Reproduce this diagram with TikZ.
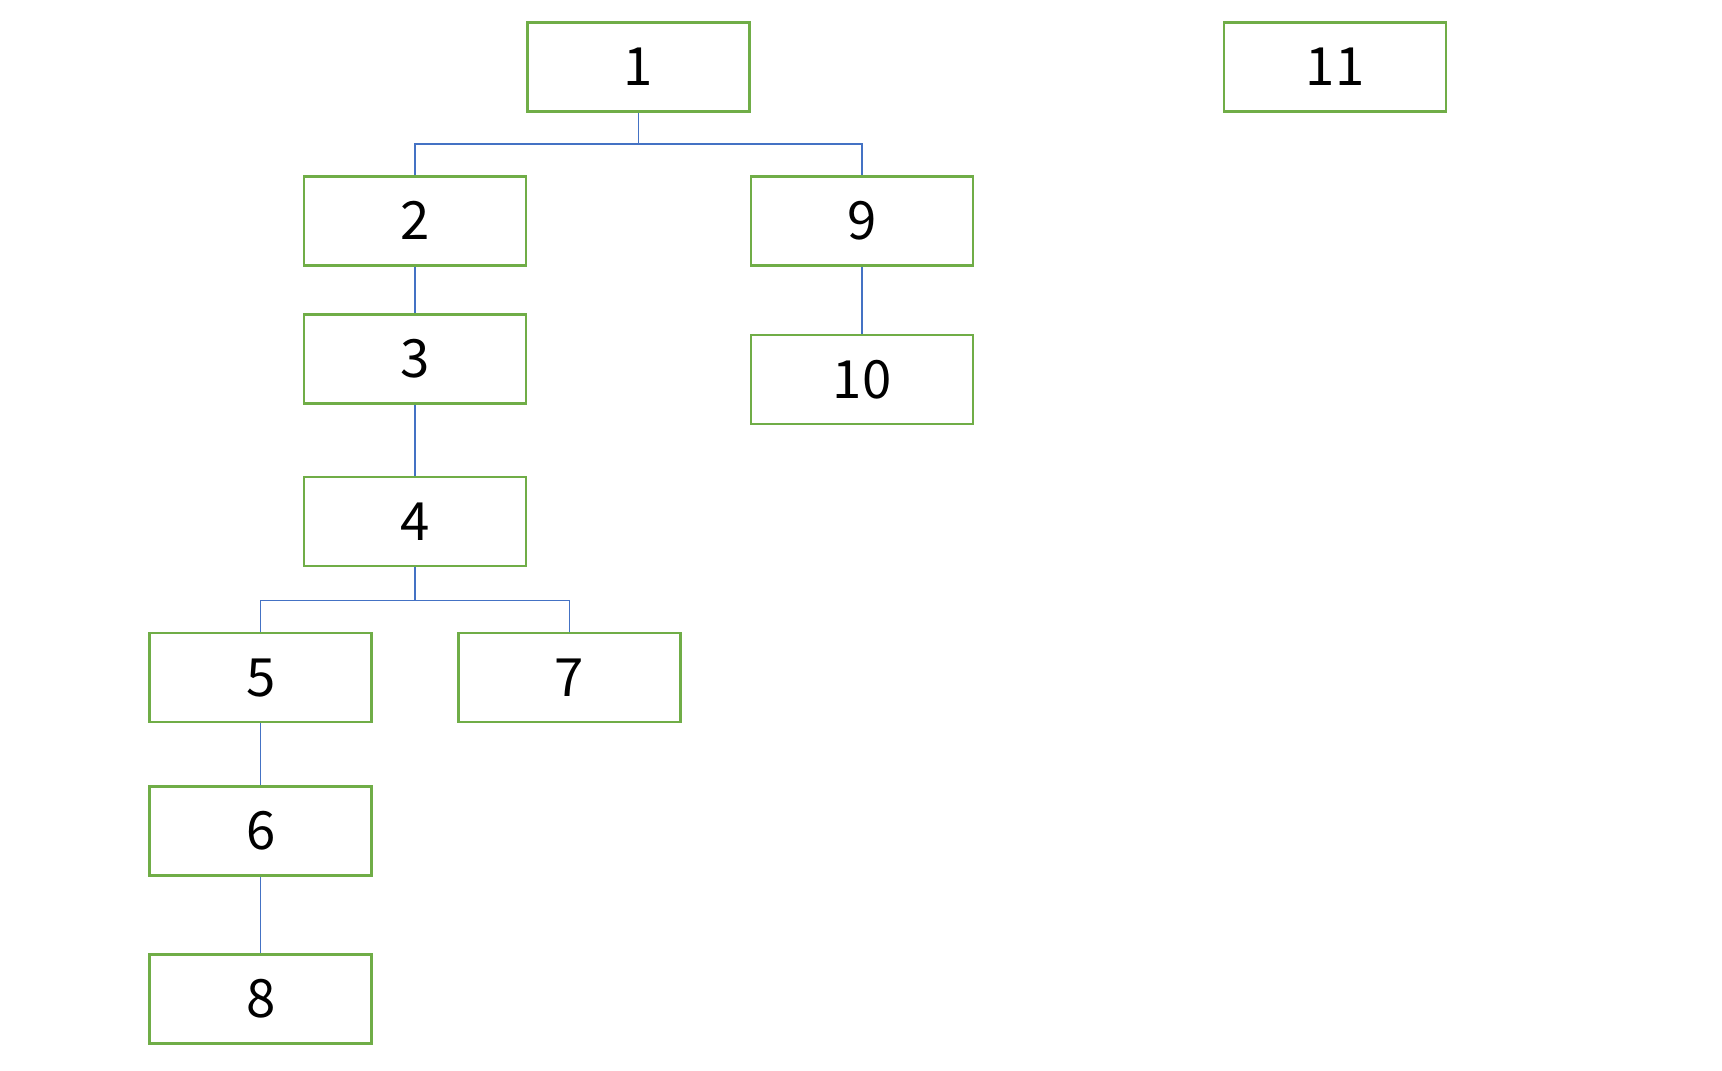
\documentclass[tikz,border=0pt]{standalone}
\usepackage{fontspec}
\setmainfont{Noto Sans CJK JP}
\usepackage{tikz}

\definecolor{boxgreen}{HTML}{70AD47}
\definecolor{linkblue}{HTML}{4472C4}

\begin{document}
\begin{tikzpicture}[x=.1mm, y=-.1mm,
        box/.style={draw=boxgreen, line width=.75pt, fill=white, minimum width=2.22cm, minimum height=.89cm, inner sep=0pt, font=\fontsize{15}{18}\selectfont},
        link/.style={draw=linkblue, line width=.35pt}]
        \useasboundingbox (0,0) rectangle (1722,1070);

        \foreach \name/\x/\y in {1/638.6/67, 11/1335/67, 2/415/220.7, 9/862/220.7,
                3/415/358.7, 10/862/379.5, 4/415/521.6, 5/260.8/677.6,
                7/569.4/677.6, 6/260.8/830.8, 8/260.8/998.8}
            \node[box] (n\name) at (\x, \y) {\name};

        \coordinate (bus1) at (638.6, 143.9);
        \coordinate (bus4) at (415, 600.7);

        \draw[link] (n1) -- (bus1);
        \draw[link] (bus1) -| (n2.north);
        \draw[link] (bus1) -| (n9.north);
        \draw[link] (n2) -- (n3);
        \draw[link] (n3) -- (n4);
        \draw[link] (n9) -- (n10);
        \draw[link] (n4) -- (bus4);
        \draw[link] (bus4) -| (n5.north);
        \draw[link] (bus4) -| (n7.north);
        \draw[link] (n5) -- (n6);
        \draw[link] (n6) -- (n8);
    \end{tikzpicture}
\end{document}
